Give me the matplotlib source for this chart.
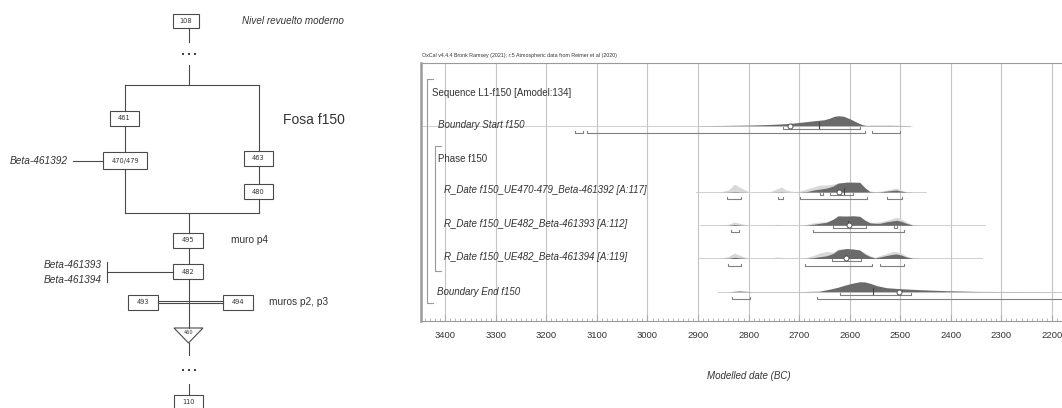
import numpy as np
import matplotlib.pyplot as plt
from matplotlib.patches import Rectangle, Polygon

plt.rcParams['font.family'] = ['Liberation Sans', 'DejaVu Sans']

# ---------------- datos: matriz de Harris ----------------
unit_labels = ['108', '461', '470/479', '463', '480', '495', '482', '493', '494', '110']
sample_left = ['Beta-461392']
sample_mid = ['Beta-461393', 'Beta-461394']

# ---------------- datos: OxCal ----------------
row_names = ['Boundary Start f150',
             'R_Date f150_UE470-479_Beta-461392 [A:117]',
             'R_Date f150_UE482_Beta-461393 [A:112]',
             'R_Date f150_UE482_Beta-461394 [A:119]',
             'Boundary End f150']

start_years = [2900, 2850, 2800, 2760, 2720, 2690, 2670, 2650, 2640, 2630, 2622,
               2612, 2600, 2588, 2576, 2568, 2550, 2520, 2490, 2470]
start_post = [0.01, 0.03, 0.06, 0.12, 0.22, 0.38, 0.5, 0.6, 0.75, 0.95, 1.0,
              0.95, 0.7, 0.4, 0.12, 0.03, 0.04, 0.04, 0.02, 0.0]

end_years = [2840, 2818, 2795, 2700, 2660, 2640, 2625, 2610, 2595, 2580, 2570,
             2560, 2546, 2527, 2500, 2460, 2410, 2347, 2300, 2200, 2100]
end_post = [0.0, 0.08, 0.01, 0.01, 0.05, 0.25, 0.42, 0.65, 0.85, 1.0, 0.98,
            0.85, 0.6, 0.4, 0.3, 0.2, 0.1, 0.03, 0.02, 0.01, 0.0]

rdate_years = [2860, 2840, 2828, 2814, 2800, 2760, 2745, 2735, 2725, 2710, 2699,
               2685, 2672, 2659, 2646, 2633, 2623, 2606, 2593, 2580, 2570, 2560,
               2550, 2540, 2527, 2514, 2507, 2498, 2488, 2475, 2460]
r1_like = [0, .2, .8, .4, .05, 0, .3, .5, .2, .05, .1, .3, .5, .7, .7, .8, .9, 1.0,
           .97, .9, .4, .1, .05, .08, .2, .35, .4, .2, .05, 0, 0]
r1_post = [0, .02, .05, .02, 0, 0, .02, .03, .01, 0, .02, .05, .2, .3, .4, .6, .9,
           1.0, 1.0, .98, .45, .05, .02, .03, .1, .18, .2, .1, .02, 0, 0]
r2_like = [0, .1, .33, .15, .02, 0, .1, .08, .02, 0, .03, .1, .25, .33, .35, .6, .85,
           .95, .93, .9, .6, .3, .3, .35, .5, .7, .8, .65, .35, .05, 0]
r2_post = [0, .02, .08, .03, 0, 0, .01, .01, 0, 0, 0, .03, .1, .2, .3, .6, .95,
           .92, .95, .9, .5, .25, .2, .2, .35, .45, .5, .4, .2, .02, 0]
r3_like = [0, .2, .55, .25, .03, 0, .15, .1, .03, 0, .03, .1, .3, .55, .7, .65, .95,
           1.0, .9, .82, .6, .3, .1, .3, .5, .7, .68, .55, .25, .05, 0]
r3_post = [0, .03, .12, .05, 0, 0, .01, .01, 0, 0, 0, .02, .08, .18, .27, .5, .85,
           1.0, .95, .85, .45, .2, .05, .15, .3, .42, .45, .35, .15, .02, 0]

# rangos 68.3% y 95.4% (BC)
start_r68 = [(2731, 2580)]
start_r95 = [(3144, 3128), (3120, 2570), (2556, 2501)]
r1_r68 = [(2659, 2653), (2638, 2594)]
r1_r95 = [(2842, 2814), (2742, 2731), (2699, 2566), (2527, 2497)]
r2_r68 = [(2632, 2568), (2513, 2507)]
r2_r95 = [(2834, 2818), (2673, 2493)]
r3_r68 = [(2635, 2578)]
r3_r95 = [(2841, 2814), (2689, 2556), (2540, 2493)]
end_r68 = [(2620, 2479)]
end_r95 = [(2833, 2798), (2665, 2100)]

means = [2719, 2622, 2602, 2608, 2503]
medians = [2661, 2612, 2603, 2607, 2554]
baselines = [(3448, 2480), (2903, 2448), (2897, 2333), (2900, 2339), (2860, 2100)]

# ---------------- figura ----------------
fig = plt.figure(figsize=(10.62, 4.08), dpi=100)

# panel izquierdo en pixeles
hm = fig.add_axes([0, 0, 1, 1])
hm.set_xlim(0, 1062)
hm.set_ylim(408, 0)
hm.axis('off')

lc = '#4a4a4a'
boxes = {  # centro x, centro y, ancho, alto
    '108': (186, 21, 26, 14),
    '461': (124.5, 118.5, 29, 15),
    '470/479': (125, 160.5, 44, 17.5),
    '463': (258.5, 158.5, 29, 15),
    '480': (258.5, 191.5, 29, 15),
    '495': (188, 240.5, 30, 15),
    '482': (188, 271.5, 30, 15),
    '493': (143, 302.5, 30, 15),
    '494': (238, 302.5, 30, 15),
    '110': (188.5, 402.5, 29, 15),
}
for lab in unit_labels:
    cx, cy, w, h = boxes[lab]
    hm.add_patch(Rectangle((cx - w / 2, cy - h / 2), w, h, fill=False, ec=lc, lw=0.8))
    hm.text(cx, cy, lab, ha='center', va='center', fontsize=4.8, color='#333',
            family='DejaVu Sans')

segs = [((188.5, 28), (188.5, 42)), ((188.5, 65), (188.5, 85)),
        ((125, 85), (259, 85)),
        ((125, 85), (125, 111)), ((125, 126), (125, 152)), ((125, 169), (125, 213)),
        ((259, 85), (259, 151)), ((259, 166), (259, 184)), ((259, 199), (259, 213)),
        ((125, 213), (259, 213)),
        ((188.5, 213), (188.5, 233)), ((188.5, 248), (188.5, 264)),
        ((188.5, 279), (188.5, 328)),
        ((73, 161), (103, 161)),
        ((107, 272), (173, 272)), ((107, 262), (107, 282)),
        ((158, 300.8), (223, 300.8)), ((158, 303.4), (223, 303.4)),
        ((188.5, 343), (188.5, 355)), ((188.5, 384), (188.5, 395))]
for (x0, y0), (x1, y1) in segs:
    hm.plot([x0, x1], [y0, y1], color=lc, lw=0.8)

# triangulo 460
hm.add_patch(Polygon([(174, 328), (203, 328), (188.5, 343)], closed=True,
                     fill=False, ec=lc, lw=0.8))
hm.text(188.5, 332.5, '460', ha='center', va='center', fontsize=3.6, color='#333',
        family='DejaVu Sans')

# puntos suspensivos
for yy in (54, 370):
    hm.plot([182.5, 188.5, 194.5], [yy] * 3, 's', ms=1.5, color='#444', mew=0)

tc = '#333333'
hm.text(242, 21, 'Nivel revuelto moderno', fontsize=7.1, style='italic', va='center', color=tc)
hm.text(283, 120, 'Fosa f150', fontsize=10, va='center', color=tc)
hm.text(68, 161, sample_left[0], fontsize=7.3, style='italic', va='center', ha='right', color=tc)
hm.text(231, 240, 'muro p4', fontsize=7.3, va='center', color=tc)
hm.text(102, 265, sample_mid[0], fontsize=7.3, style='italic', va='center', ha='right', color=tc)
hm.text(102, 280, sample_mid[1], fontsize=7.3, style='italic', va='center', ha='right', color=tc)
hm.text(269, 302, 'muros p2, p3', fontsize=7.3, va='center', color=tc)

# ---------------- panel OxCal ----------------
ax = fig.add_axes([421 / 1062, 87 / 408, 681.4 / 1062, 258 / 408])
ax.set_xlim(3448, 2100)
ax.set_ylim(6.883, -0.889)

ax.set_xticks(np.arange(3400, 2100, -100))
ax.set_xticks(np.arange(3440, 2100, -10), minor=True)
ax.set_yticks([])
ax.grid(axis='x', which='major', color='#c4c4c4', lw=0.8)
ax.set_axisbelow(True)
ax.tick_params(axis='x', which='major', direction='in', length=4, color='#aaa',
               labelsize=6.8, pad=7.5, labelcolor=tc)
ax.tick_params(axis='x', which='minor', direction='in', length=2.2, width=0.6, color='#aaa')
for side in ['top', 'bottom', 'left', 'right']:
    ax.spines[side].set_color('#9a9a9a')
    ax.spines[side].set_linewidth(0.8)
ax.spines['left'].set_linewidth(1.8)

peak = 0.30
light = '#d8d8d8'
dark = '#6a6a6a'
row_k = [1, 3, 4, 5, 6]
likes = [None, r1_like, r2_like, r3_like, None]
posts = [start_post, r1_post, r2_post, r3_post, end_post]
years = [start_years, rdate_years, rdate_years, rdate_years, end_years]
r68s = [start_r68, r1_r68, r2_r68, r3_r68, end_r68]
r95s = [start_r95, r1_r95, r2_r95, r3_r95, end_r95]

for i, k in enumerate(row_k):
    b0, b1 = baselines[i]
    ax.plot([b0, b1], [k, k], color='#c8c8c8', lw=0.6, zorder=2)
    yrs = np.array(years[i])
    if likes[i] is not None:
        ax.fill_between(yrs, k - peak * np.array(likes[i]), k, color=light, lw=0, zorder=3)
    ax.fill_between(yrs, k - peak * np.array(posts[i]), k, color=dark, lw=0, zorder=4)
    for off, rng in ((0.09, r68s[i]), (0.215, r95s[i])):
        for a, b in rng:
            ax.plot([a, a, b, b], [k + off - 0.06, k + off, k + off, k + off - 0.06],
                    color='#808080', lw=0.8, zorder=5)
    ax.plot([medians[i]] * 2, [k - 0.12, k + 0.06], color='#444', lw=0.8, zorder=6)
    ax.plot(means[i], k, 'o', ms=3.6, mfc='white', mec='#555', mew=0.7, zorder=7)

# etiquetas de filas
ax.text(3427, 0.0, 'Sequence L1-f150 [Amodel:134]', fontsize=7, va='center', color=tc)
ax.text(3415, 0.97, row_names[0], fontsize=7, style='italic', va='center', color=tc)
ax.text(3415, 2.0, 'Phase f150', fontsize=7, va='center', color=tc)
for i, k in enumerate([3, 4, 5]):
    ax.text(3403, k - 0.05, row_names[i + 1], fontsize=7, style='italic', va='center', color=tc)
ax.text(3416, 6.0, row_names[4], fontsize=7, style='italic', va='center', color=tc)

# corchetes de Sequence y Phase
ax.plot([3424.7, 3436.6, 3436.6, 3424.7], [-0.4, -0.4, 6.34, 6.34], color='#999', lw=0.8)
ax.plot([3409, 3420.8, 3420.8, 3409], [1.61, 1.61, 5.38, 5.38], color='#999', lw=0.8)

fig.text(422 / 1062, (408 - 56) / 408,
         'OxCal v4.4.4 Bronk Ramsey (2021); r:5 Atmospheric data from Reimer et al (2020)',
         fontsize=3.8, va='center', color=tc)
fig.text(749 / 1062, (408 - 376) / 408, 'Modelled date (BC)', fontsize=7,
         style='italic', ha='center', va='center', color=tc)

fig.savefig('out.png', dpi=100)
